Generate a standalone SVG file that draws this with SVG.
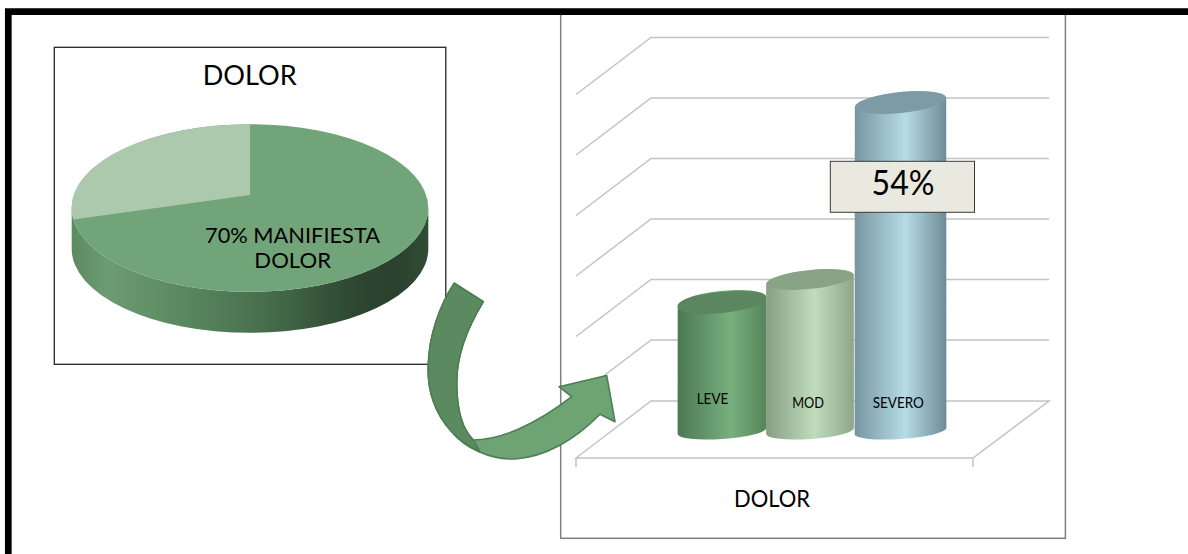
<svg xmlns="http://www.w3.org/2000/svg" width="1188" height="554" viewBox="0 0 1188 554">
<defs>
<style>
text{font-family:Lato,"Liberation Sans",sans-serif;fill:#000}
.grid{stroke:#c3c3c3;stroke-width:1.5;fill:none}
.mid{text-anchor:middle}
.arrowStroke{stroke:#4d7e53;stroke-width:1.6;stroke-linejoin:round}
</style>
<linearGradient id="pieSide" gradientUnits="userSpaceOnUse" x1="72" y1="0" x2="428" y2="0">
<stop offset="0" stop-color="#5c8a61"/>
<stop offset="0.1" stop-color="#6c9c71"/>
<stop offset="0.3" stop-color="#5c8961"/>
<stop offset="0.55" stop-color="#466d4b"/>
<stop offset="0.78" stop-color="#2e4832"/>
<stop offset="0.9" stop-color="#2a412d"/>
<stop offset="1" stop-color="#304c34"/>
</linearGradient>
<linearGradient id="gLeve" x1="0" y1="0" x2="1" y2="0">
<stop offset="0" stop-color="#4c7853"/>
<stop offset="0.6" stop-color="#78af7e"/>
<stop offset="1" stop-color="#55855a"/>
</linearGradient>
<linearGradient id="gMod" x1="0" y1="0" x2="1" y2="0">
<stop offset="0" stop-color="#869f84"/>
<stop offset="0.55" stop-color="#bfdcbc"/>
<stop offset="1" stop-color="#8ea68b"/>
</linearGradient>
<linearGradient id="gSev" x1="0" y1="0" x2="1" y2="0">
<stop offset="0" stop-color="#7795a0"/>
<stop offset="0.55" stop-color="#b6dce6"/>
<stop offset="1" stop-color="#6e8b95"/>
</linearGradient>
</defs>

<rect width="1188" height="554" fill="#fff"/>

<g id="pie-panel">
<rect x="54.3" y="47.3" width="391.5" height="317" fill="#fff" stroke="#262626" stroke-width="1.3"/>
<text class="mid" x="249.7" y="85" font-size="26" textLength="94" lengthAdjust="spacingAndGlyphs">DOLOR</text>
<path d="M71.7,208 A178.3 83.8 0 0 0 428.3,208 L428.3,249 A178.3 83.8 0 0 1 71.7,249 Z" fill="url(#pieSide)"/>
<ellipse cx="250" cy="208" rx="178.3" ry="83.8" fill="#72a479"/>
<path d="M250,195 L250,124.2 A178.3 83.8 0 0 0 73.3,219.5 Z" fill="#adc9ad"/>
<text class="mid" x="292.5" y="242.7" font-size="21.5" textLength="175" lengthAdjust="spacingAndGlyphs">70% MANIFIESTA</text>
<text class="mid" x="292.7" y="268.3" font-size="21.5" textLength="76.7" lengthAdjust="spacingAndGlyphs">DOLOR</text>
</g>

<g id="bar-panel">
<rect x="560.7" y="12" width="504.7" height="526.3" fill="#fff" stroke="#7f7f7f" stroke-width="1.5"/>
<g class="grid">
<path d="M576,94.5 L651,37.5 H1049"/>
<path d="M576,155 L651,98 H1049"/>
<path d="M576,215.5 L651,158.5 H1049"/>
<path d="M576,276 L651,219 H1049"/>
<path d="M576,336.5 L651,279.5 H1049"/>
<path d="M576,397 L651,340 H1049"/>
<path d="M576,458 L651,401 H1049 L973,458 Z"/>
<path d="M576,458 V467 M973,458 V467"/>
</g>
<g id="bar-leve">
<path d="M677.7,306.8 L677.6,434.1 A44.5 8 -4 0 0 766.4,427.9 L766.3,296.2 A44.5 10.5 -6 0 0 677.7,306.8 Z" fill="url(#gLeve)"/>
<ellipse cx="722" cy="302.5" rx="44.5" ry="10.5" transform="rotate(-6 722 302.5)" fill="#5a8760"/>
<text class="mid" x="712.5" y="404.3" font-size="14.5" textLength="31.6" lengthAdjust="spacingAndGlyphs">LEVE</text>
</g>
<g id="bar-mod">
<path d="M766.2,284.1 L766.1,434.1 A44 8 -4 0 0 853.9,427.9 L853.8,274.9 A44 9.4 -6 0 0 766.2,284.1 Z" fill="url(#gMod)"/>
<ellipse cx="810" cy="279.5" rx="44" ry="9.4" transform="rotate(-6 810 279.5)" fill="#89a387"/>
<text class="mid" x="808" y="408.3" font-size="14.5" textLength="31.7" lengthAdjust="spacingAndGlyphs">MOD</text>
</g>
<g id="bar-severo">
<path d="M854.8,107.3 L854.6,434.2 A46 8 -4 0 0 946.4,427.8 L946.2,97.7 A46 10.5 -6 0 0 854.8,107.3 Z" fill="url(#gSev)"/>
<ellipse cx="900.5" cy="102.5" rx="46" ry="10.5" transform="rotate(-6 900.5 102.5)" fill="#7d9ba5"/>
<text class="mid" x="898.3" y="408.3" font-size="14.5" textLength="51.3" lengthAdjust="spacingAndGlyphs">SEVERO</text>
</g>
<g id="label-54">
<rect x="830.3" y="161.3" width="144.2" height="51" fill="#e9e9df" stroke="#3a3a3a" stroke-width="1"/>
<text class="mid" x="903" y="195" font-size="34" textLength="63" lengthAdjust="spacingAndGlyphs">54%</text>
</g>
<text class="mid" x="772" y="507" font-size="23" textLength="76" lengthAdjust="spacingAndGlyphs">DOLOR</text>
</g>

<g id="frame">
<path d="M8.3,554 V11.7 H1188" fill="none" stroke="#000" stroke-width="6.7" stroke-linejoin="miter"/>
</g>

<g id="connectors">
<path class="arrowStroke" fill="#6ea474" d="M454.3,283.3 L483.3,301.7 C466,330 456,360 456.7,385 C457,410 463,430 473.3,440 C500,440 535,425 571.7,396.7 L559,386.7 L606.7,375.5 L615,421.7 L600,414.3 C575,440 545,457 515,459 C490,460 465,448 451.7,431.7 C435,414 427,390 428.3,365 C429,335 440,305 454.3,283.3 Z"/>
<path class="arrowStroke" fill="#5b8a60" d="M454.3,283.3 L483.3,301.7 C466,330 456,360 456.7,385 C457,410 463,430 473.3,440 L480,452 C468,446 458,439 451.7,431.7 C435,414 427,390 428.3,365 C429,335 440,305 454.3,283.3 Z"/>
</g>
</svg>
